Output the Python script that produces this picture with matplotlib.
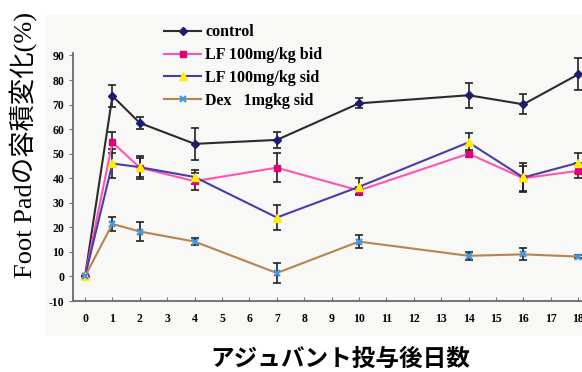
import matplotlib
matplotlib.use("Agg")
import matplotlib.pyplot as plt
from matplotlib.patches import Rectangle

# Days after adjuvant injection
days = [0, 1, 2, 4, 7, 10, 14, 16, 18]

# Foot pad volume change (%) and error (mean +/- SE)
control = [0, 73.5, 62.5, 54.0, 55.6, 70.5, 73.8, 70.1, 82.3]
control_err = [0, 4.5, 2.5, 6.6, 3.2, 2.0, 5.0, 4.0, 6.5]

lf_bid = [0, 54.6, 44.3, 38.8, 44.3, 35.0, 50.0, 40.0, 43.0]
lf_bid_err = [0, 4.3, 4.0, 3.5, 6.0, 1.5, 1.5, 5.0, 3.0]

lf_sid = [0, 46.0, 44.5, 40.5, 24.0, 36.5, 54.6, 40.3, 46.3]
lf_sid_err = [0, 6.0, 4.7, 3.0, 5.0, 3.5, 4.0, 6.0, 4.0]

dex = [0, 21.4, 18.3, 14.2, 1.4, 14.2, 8.4, 9.0, 8.1]
dex_err = [0, 3.0, 3.8, 1.5, 4.2, 2.5, 1.5, 2.5, 0.6]

labels = ["control", "LF 100mg/kg bid", "LF 100mg/kg sid", "Dex   1mgkg sid"]
y_ticks = [-10, 0, 10, 20, 30, 40, 50, 60, 70, 80, 90]
x_ticks = list(range(0, 19))

W, H = 582, 372
fig = plt.figure(figsize=(W / 100, H / 100), dpi=100)
fig.patch.set_facecolor("white")

# faint grey panel behind the plot
fig.patches.append(Rectangle((45 / W, 1 - 336 / H), 1 - 45 / W, (336 - 15) / H,
                             transform=fig.transFigure, facecolor="#f8f8f6",
                             edgecolor="none", zorder=-5))

ax = fig.add_axes([72.7 / W, 1 - 301 / H, 1 - 72.7 / W, (301 - 53) / H])
ax.set_facecolor("none")
ax.set_zorder(2)

serif = ["Liberation Serif", "DejaVu Serif"]

series = [
    (control, control_err, dict(color="#2b2b2b", marker="D", mfc="#1c1c70", mec="#1c1c70", ms=4.5)),
    (lf_bid, lf_bid_err, dict(color="#ff55b0", marker="s", mfc="#e0007a", mec="#e0007a", ms=4.5)),
    (lf_sid, lf_sid_err, dict(color="#4a3ca8", marker="^", mfc="#ffee00", mec="#ffee00", ms=6)),
    (dex, dex_err, dict(color="#b8844e", marker="x", mfc="#3d9ae8", mec="#3d9ae8", ms=5, mew=1.6)),
]

handles = []
for (vals, errs, style), lab in zip(series, labels):
    ax.errorbar(days, vals, yerr=errs, fmt="none", ecolor="#222222",
                elinewidth=1.2, capsize=3, capthick=1.2, zorder=2)
    h, = ax.plot(days, vals, lw=1.5, zorder=3, label=lab, **style)
    handles.append(h)

ax.set_xlim(-0.45, 18.14)
ax.set_ylim(-10, 91)
ax.set_xticks(x_ticks)
ax.set_yticks(y_ticks)
ax.set_xticklabels([str(t) for t in x_ticks], fontfamily=serif, fontweight="bold", fontsize=8.5)
ax.set_yticklabels([str(t) for t in y_ticks], fontfamily=serif, fontweight="bold", fontsize=8.5)
ax.tick_params(axis="x", direction="in", length=3, width=0.8, color="#777777", pad=9)
ax.tick_params(axis="y", direction="out", length=3, width=0.8, color="#777777", pad=3)

for s in ("top", "right"):
    ax.spines[s].set_visible(False)
for s in ("left", "bottom"):
    ax.spines[s].set_color("#6a6a6a")
    ax.spines[s].set_linewidth(1.3)

leg = ax.legend(handles=handles, loc="upper left",
                bbox_to_anchor=(158 / W, 1 - 18 / H), bbox_transform=fig.transFigure,
                frameon=False, handlelength=2.3, handletextpad=0.25,
                labelspacing=0.42, borderaxespad=0,
                prop=dict(family=serif, weight="bold", size=11.5))

fig.text(23 / W, 1 - 145 / H, "Foot Padの容積変化(%)", rotation=90,
         ha="center", va="center", fontsize=19,
         family=["Liberation Serif", "Noto Sans CJK JP"])

fig.text(340 / W, 1 - 359 / H, "アジュバント投与後日数", ha="center", va="center",
         fontsize=17, fontweight="bold", family=["Noto Sans CJK JP", "DejaVu Sans"])

fig.savefig("out.png", dpi=100, facecolor=fig.get_facecolor())
